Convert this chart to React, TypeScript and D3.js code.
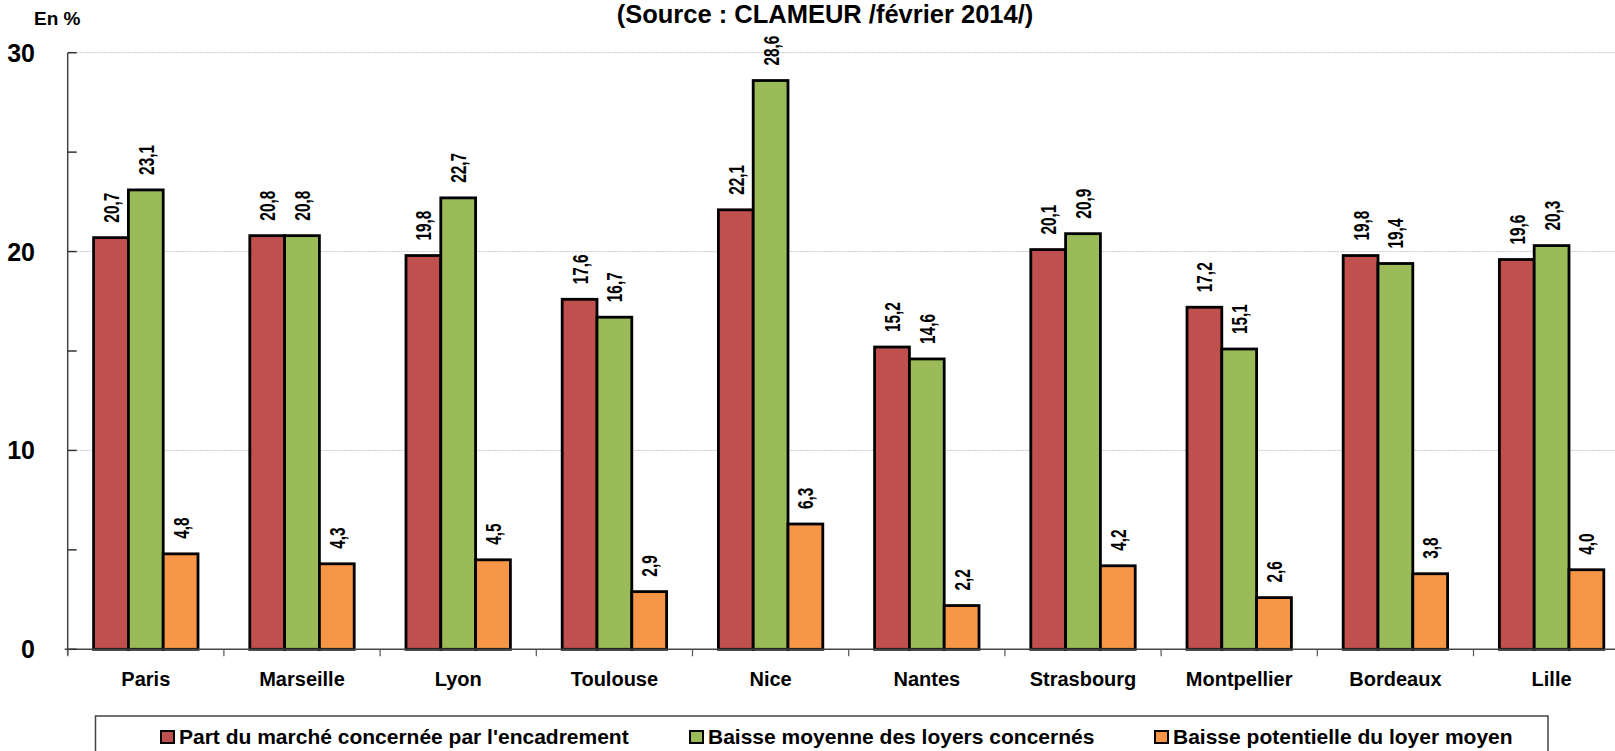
import React from "react";
import * as d3 from "d3";

const categories = ["Paris", "Marseille", "Lyon", "Toulouse", "Nice", "Nantes", "Strasbourg", "Montpellier", "Bordeaux", "Lille"];
const partMarche = [20.7, 20.8, 19.8, 17.6, 22.1, 15.2, 20.1, 17.2, 19.8, 19.6];
const baisseMoyenne = [23.1, 20.8, 22.7, 16.7, 28.6, 14.6, 20.9, 15.1, 19.4, 20.3];
const baissePotentielle = [4.8, 4.3, 4.5, 2.9, 6.3, 2.2, 4.2, 2.6, 3.8, 4.0];
const seriesNames = [
  "Part du marché concernée par l'encadrement",
  "Baisse moyenne des loyers concernés",
  "Baisse potentielle du loyer moyen",
];
const seriesColors = ["#C0504D", "#9BBB59", "#F79646"];
const yTickLabels = [0, 10, 20, 30];
const title = "(Source : CLAMEUR /février 2014/)";
const unitLabel = "En %";

const W = 1615;
const H = 751;
const FONT = "'Liberation Sans', Arial, sans-serif";

export default function App() {
  const series = [partMarche, baisseMoyenne, baissePotentielle];
  const x0 = 67.7;
  const step = 156.2;
  const x = d3.scaleBand<string>().domain(categories).range([x0, x0 + step * categories.length]).paddingInner(0).paddingOuter(0);
  const xi = d3.scaleBand<number>().domain([0, 1, 2]).range([0, x.bandwidth()]).paddingInner(0).paddingOuter(0.744);
  const y = d3.scaleLinear().domain([0, 30]).range([649.3, 52.7]);
  const minorTicks = d3.range(0, 31, 5);
  const fmt = (v: number) => v.toFixed(1).replace(".", ",");
  const legendX = [161, 690, 1155];

  return (
    <svg width={W} height={H} style={{ position: "absolute", left: 0, top: 0, background: "#fff" }} fontFamily={FONT}>
      <rect x={0} y={0} width={W} height={H} fill="#fff" />
      <text x={825} y={23.3} textAnchor="middle" fontSize={25.5} fontWeight="bold" fill="#000">{title}</text>
      <text x={34} y={25} fontSize={19} fontWeight="bold" fill="#000">{unitLabel}</text>

      {/* gridlines */}
      {yTickLabels.filter((t) => t > 0).map((t) => (
        <line key={"g" + t} x1={x0} x2={W} y1={y(t)} y2={y(t)} stroke="#c8c8c8" strokeWidth={1} strokeDasharray="2,1" />
      ))}

      {/* bars */}
      {categories.map((c, ci) => (
        <g key={c}>
          {series.map((s, si) => {
            const bx = (x(c) as number) + (xi(si) as number);
            const bw = xi.bandwidth();
            return (
              <rect key={si} x={bx} y={y(s[ci])} width={bw} height={y(0) - y(s[ci])} fill={seriesColors[si]} stroke="#000" strokeWidth={2.8} />
            );
          })}
          {series.map((s, si) => {
            const cx = (x(c) as number) + (xi(si) as number) + xi.bandwidth() / 2;
            const ty = y(s[ci]) - 15;
            return (
              <text key={"l" + si} transform={`translate(${cx},${ty}) rotate(-90) scale(0.7,1)`} dy="0.36em" fontSize={22} fontWeight="bold" fill="#000">
                {fmt(s[ci])}
              </text>
            );
          })}
        </g>
      ))}

      {/* axes */}
      <line x1={x0} x2={x0} y1={y(30)} y2={y(0) + 6} stroke="#444" strokeWidth={1.5} />
      <line x1={x0 - 3} x2={W} y1={y(0)} y2={y(0)} stroke="#444" strokeWidth={1.5} />
      {minorTicks.map((t) => (
        <line key={"t" + t} x1={x0} x2={x0 + 9} y1={y(t)} y2={y(t)} stroke="#333" strokeWidth={1.5} />
      ))}
      {categories.map((c, ci) => (
        <line key={"ct" + c} x1={x0 + ci * step} x2={x0 + ci * step} y1={y(0)} y2={y(0) + 7} stroke="#555" strokeWidth={1.2} />
      ))}
      {yTickLabels.map((t) => (
        <text key={"yl" + t} x={35} y={y(t)} dy="0.36em" textAnchor="end" fontSize={25} fontWeight="bold" fill="#000">{t}</text>
      ))}
      {categories.map((c) => (
        <text key={"xl" + c} x={(x(c) as number) + x.bandwidth() / 2} y={686} textAnchor="middle" fontSize={20} fontWeight="bold" fill="#000">{c}</text>
      ))}

      {/* legend */}
      <rect x={95.5} y={716} width={1548 - 95.5} height={80} fill="#fff" stroke="#444" strokeWidth={1.5} />
      {seriesNames.map((n, i) => (
        <g key={"lg" + i}>
          <rect x={legendX[i]} y={731} width={13} height={12} fill={seriesColors[i]} stroke="#000" strokeWidth={2} />
          <text x={legendX[i] + 18} y={744} fontSize={21} fontWeight="bold" fill="#000">{n}</text>
        </g>
      ))}
    </svg>
  );
}
